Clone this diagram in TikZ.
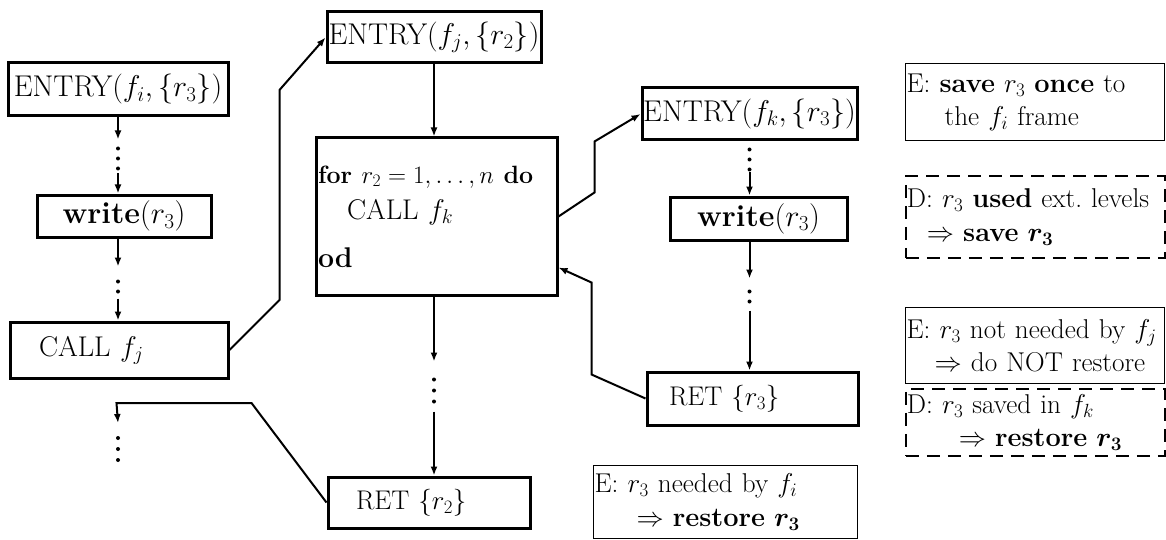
\RequirePackage{fix-cm}
\documentclass[tikz,border=0pt]{standalone}
\usepackage{amsmath}
\usetikzlibrary{arrows.meta,calc}
\begin{document}
\begin{tikzpicture}[x=1pt,y=-1pt,
  every node/.style={font=\fontsize{28.5}{31}\selectfont},
  box/.style={draw,line width=3pt,inner sep=0pt},
  entry/.style={box,font=\fontsize{30}{33}\selectfont},
  wrt/.style={box,font=\fontsize{30.5}{33}\selectfont},
  ret/.style={box,align=left,font=\fontsize{27}{30}\selectfont},
  note/.style={draw,line width=1.3pt,inner xsep=1pt,inner ysep=0pt,align=left,anchor=north west,
    font=\fontsize{27.2}{33.5}\selectfont},
  dnote/.style={note,line width=1.8pt,dash pattern=on 13pt off 8pt},
  wire/.style={line width=2pt},
  arr/.style={wire,-{Latex[length=9pt,width=7pt]}}]
\useasboundingbox (0,0) rectangle (1166,540);
\clip (0,0) rectangle (1166,540);

% procedure f_i
\node[entry,minimum width=220,minimum height=53] (ei) at (118,89.5) {ENTRY$(f_i,\{r_3\})$};
\node[wrt,minimum width=174,minimum height=42] (wi) at (124,216) {\textbf{write}$(r_3)$};
\node[box,minimum width=218,minimum height=56,text width=160,align=left,inner xsep=29] (ci) at (119,350) {CALL $f_j$};

% procedure f_j
\node[entry,minimum width=214,minimum height=51] (ej) at (434,37.5) {ENTRY$(f_j,\{r_2\})$};
\node[box,minimum width=241,minimum height=157,text width=237,align=left,inner xsep=2] (loop) at (436.5,216.5)
  {{\fontsize{25}{30}\selectfont\textbf{for} $r_2=1,\ldots,n$ \textbf{do}}\\[5pt]\hspace*{29pt}CALL $f_k$\\[17pt]\textbf{od}};
\node[ret,minimum width=202,minimum height=51,text width=146,inner xsep=28] (rj) at (429,502.5) {RET $\{r_2\}$};

% procedure f_k
\node[entry,minimum width=215,minimum height=52] (ek) at (749.5,114) {ENTRY$(f_k,\{r_3\})$};
\node[wrt,minimum width=177,minimum height=43] (wk) at (758.5,218.5) {\textbf{write}$(r_3)$};
\node[ret,minimum width=211,minimum height=53,text width=167,inner xsep=22] (rk) at (752.5,398.5) {RET $\{r_3\}$};

% annotations (E: eager, D: delayed)
\node[note,minimum width=259,minimum height=77,text width=257] (n1) at (905,63)
  {\mbox{E: \textbf{save} $r_3$ \textbf{once} to}\\\hspace*{38pt}the $f_i$ frame};
\node[dnote,minimum width=259,minimum height=82,text width=257] (n2) at (905,175)
  {\mbox{D: $r_3$ \textbf{used} ext.\ levels}\\\hspace*{20pt}$\Rightarrow$ \textbf{save} $\boldsymbol{r_3}$};
\node[note,minimum width=259,minimum height=76,text width=257] (n3) at (905,307)
  {\mbox{E: $r_3$ not needed by $f_j$}\\\hspace*{28pt}$\Rightarrow$ do NOT restore};
\node[dnote,minimum width=259,minimum height=67,text width=257] (n4) at (905,388)
  {\mbox{D: $r_3$ saved in $f_k$}\\\hspace*{52pt}$\Rightarrow$ \textbf{restore} $\boldsymbol{r_3}$};
\node[note,minimum width=264,minimum height=73,text width=262] (n5) at (593,465)
  {\mbox{E: $r_3$ needed by $f_i$}\\\hspace*{42pt}$\Rightarrow$ \textbf{restore} $\boldsymbol{r_3}$};

% f_i: entry -> write -> call
\draw[arr] (ei.south) -- ++(0,22);
\foreach \d in {31,41,51} \fill ($(ei.south)+(0,\d)$) circle (2);
\draw[arr] ($(ei.south |- wi.north)+(0,-20)$) -- (ei.south |- wi.north);
\draw[arr] (ei.south |- wi.south) -- ++(0,28);
\foreach \d in {43,53} \fill ($(ei.south |- wi.south)+(0,\d)$) circle (2);
\draw[arr] ($(ei.south |- ci.north)+(0,-22)$) -- (ei.south |- ci.north);

% call of f_j and its return
\draw[arr] (ci.east) -- ++(50,-50) -- ++(0,-210) -- (ej.west);
\coordinate (back) at (118,423);
\draw[arr] (rj.west) -- ++(-75,-99.5) -- ++(-135,0) -- (back);
\foreach \d in {15,26,37} \fill ($(back)+(0,\d)$) circle (2);

% f_j: entry -> loop -> return
\draw[arr] (ej.south) -- (ej.south |- loop.north);
\draw[arr] (ej.south |- loop.south) -- ++(0,65);
\foreach \d in {83,94,105} \fill ($(ej.south |- loop.south)+(0,\d)$) circle (2);
\draw[arr] ($(ej.south |- rj.north)+(0,-64)$) -- (ej.south |- rj.north);

% call of f_k and its return
\draw[arr] (loop.east) -- ++(36,-24) -- ++(0,-51) -- (ek.west);
\draw[arr] (rk.west) -- ++(-54,-24) -- ++(0,-92) -- ($(loop.east)+(0,51)$);

% f_k: entry -> write -> return
\foreach \d in {8,18,28} \fill ($(ek.south)+(0,\d)$) circle (2);
\draw[arr] ($(ek.south |- wk.north)+(0,-23)$) -- (ek.south |- wk.north);
\draw[arr] (ek.south |- wk.south) -- ++(0,37);
\foreach \d in {50,60} \fill ($(ek.south |- wk.south)+(0,\d)$) circle (2);
\draw[arr] ($(ek.south |- rk.north)+(0,-60)$) -- (ek.south |- rk.north);
\end{tikzpicture}
\end{document}
